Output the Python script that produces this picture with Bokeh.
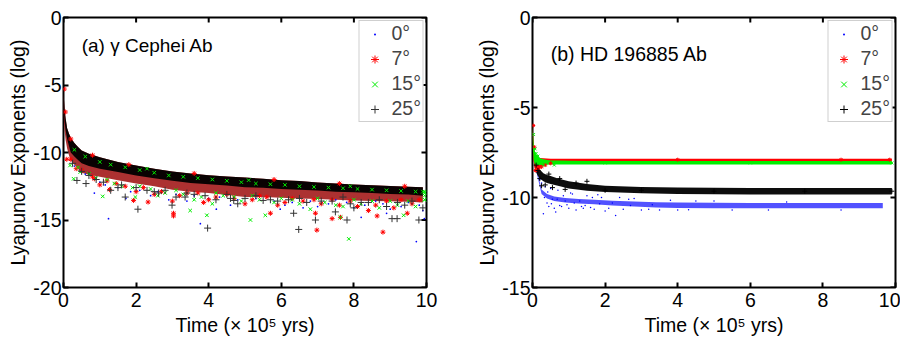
import math
from bokeh.plotting import figure
from bokeh.layouts import row
from bokeh.models import Label, FixedTicker, Range1d
from bokeh.embed import file_html
from bokeh.resources import INLINE

FONT = "Liberation Sans"
FS = "19.5px"
BLUE, RED, GREEN, BLACK = "#0000ff", "#ff0000", "#00ee00", "#000000"
LABELS = ["0\u00b0", "7\u00b0", "15\u00b0", "25\u00b0"]
X_LABEL = "Time (\u00d7 10\u2075 yrs)"
Y_LABEL = "Lyapunov Exponents (log)"

X_TICKS = [0, 2, 4, 6, 8, 10]
A_Y_TICKS = [0, -5, -10, -15, -20]
B_Y_TICKS = [0, -5, -10, -15]

# ---------------- panel (a): gamma Cephei Ab ----------------
A_T = [0.0, 0.03, 0.06, 0.1, 0.15, 0.2, 0.3, 0.4, 0.5, 0.7, 1.0, 1.5, 2.0, 2.5, 3.0,
       3.5, 4.0, 4.5, 5.0, 5.5, 6.0, 6.5, 7.0, 7.5, 8.0, 8.5, 9.0, 9.5, 9.9]
A_HI = [-5.5, -6.8, -7.5, -8.2, -8.6, -8.9, -9.3, -9.6, -9.85, -10.1, -10.35, -10.7, -10.96,
        -11.2, -11.4, -11.55, -11.68, -11.78, -11.85, -11.95, -12.05, -12.12, -12.22, -12.3,
        -12.37, -12.43, -12.48, -12.53, -12.57]
A_CORE_LO = [-6.5, -7.7, -8.4, -9.0, -9.5, -10.0, -10.3, -10.55, -10.8, -11.0, -11.2, -11.45,
             -11.7, -11.9, -12.1, -12.25, -12.35, -12.45, -12.57, -12.62, -12.7, -12.75, -12.82,
             -12.9, -12.95, -13.0, -13.07, -13.12, -13.2]
A_LO = [-7.2, -8.4, -9.1, -9.7, -10.2, -10.6, -10.9, -11.2, -11.5, -11.65, -11.8, -12.05,
        -12.3, -12.5, -12.75, -12.9, -13.0, -13.15, -13.3, -13.3, -13.35, -13.4, -13.45, -13.5,
        -13.55, -13.6, -13.62, -13.65, -13.7]

A_BLUE_T = [1.24, 3.77, 9.72, 8.2, 1.72, 0.85, 4.21, 5.97, 9.94, 8.9,
            0.3, 0.6, 1.0, 1.5, 2.1, 2.6, 3.1, 3.6, 4.3, 4.8, 5.3, 5.8, 6.3, 6.8,
            7.3, 7.8, 8.3, 8.8, 9.3, 9.8, 2.9, 4.6, 7.0, 9.0,
            0.45, 1.15, 1.85, 2.4, 3.4, 4.0, 5.0, 5.6, 6.1, 6.6, 7.5, 8.0, 8.6, 9.5, 9.9]
A_BLUE_V = [-14.9, -15.27, -16.6, -14.8, -13.4, -13.0, -14.2, -14.2, -14.9, -14.5,
            -11.0, -11.6, -12.2, -12.6, -12.8, -12.9, -13.1, -13.2, -13.3, -13.5, -13.4,
            -13.6, -13.7, -13.6, -13.8, -13.7, -13.9, -13.8, -14.0, -13.9, -13.5, -13.9,
            -14.0, -14.2,
            -11.3, -12.4, -12.9, -13.2, -13.6, -13.4, -13.8, -13.3, -13.9, -14.1, -13.5,
            -14.1, -13.6, -13.7, -14.3]
A_RED_T = [1.27, 1.93, 3.03, 3.03, 3.86, 6.98, 7.4, 8.8, 8.64, 6.94, 7.63, 2.33, 0.85, 0.09,
           9.47, 5.7,
           0.2, 0.5, 0.8, 1.2, 1.7, 2.2, 2.7, 3.2, 3.7, 4.2, 4.7, 5.2, 5.6, 6.1, 6.6, 7.1,
           7.6, 8.1, 8.6, 9.1, 9.6, 3.0, 5.9, 8.4,
           0.02, 0.05, 0.2, 0.8, 1.8, 3.6, 5.8, 7.6, 9.4,
           0.35, 1.0, 1.45, 2.0, 2.5, 3.4, 4.0, 4.5, 5.0, 5.4, 6.3, 6.9, 7.4, 7.9, 8.9, 9.3, 9.8]
A_RED_V = [-12.75, -13.55, -14.7, -14.5, -13.7, -15.75, -14.9, -15.9, -14.7, -14.5, -14.8,
           -13.67, -11.95, -10.5, -14.5, -14.5,
           -10.5, -11.3, -11.8, -12.1, -12.5, -12.6, -12.9, -13.2, -13.0, -13.3, -13.4, -13.5,
           -13.3, -13.7, -13.6, -13.8, -13.9, -14.0, -13.9, -14.1, -13.8, -13.6, -13.9, -14.3,
           -5.3, -7.0, -9.0, -10.2, -10.9, -11.55, -12.0, -12.3, -12.5,
           -11.2, -12.4, -12.3, -12.9, -13.1, -13.0, -13.5, -13.1, -13.8, -13.2, -13.4, -13.5,
           -13.5, -13.6, -13.6, -13.5, -13.5]
A_GREEN_T = [0.18, 0.28, 0.46, 1.08, 1.98, 3.95, 5.15, 5.56, 7.86, 7.63, 3.49, 9.9, 9.37,
             0.4, 0.9, 1.4, 1.9, 2.4, 2.8, 3.3, 3.8, 4.4, 4.9, 5.4, 6.0, 6.5, 7.2, 7.7, 8.2,
             8.7, 9.2, 9.7, 9.95, 9.95, 4.1, 6.8,
             0.3, 0.6, 1.0, 1.3, 1.7, 2.1, 2.5, 2.9, 3.3, 3.7, 4.1, 4.5, 4.9, 5.3, 5.7, 6.1,
             6.5, 6.9, 7.3, 7.7, 8.1, 8.5, 8.9, 9.3, 9.7, 9.95, 2.3, 5.1, 7.9, 9.95, 9.95,
             0.7, 1.2, 1.6, 2.1, 2.6, 3.1, 3.6, 4.2, 4.7, 5.2, 5.8, 6.3, 7.0, 7.5, 8.0, 8.5,
             9.0, 9.5]
A_GREEN_V = [-10.96, -11.95, -11.45, -13.25, -13.3, -14.65, -15.0, -14.65, -16.4, -14.8,
             -14.3, -12.9, -14.65,
             -11.1, -11.9, -12.3, -12.6, -12.7, -13.0, -13.1, -13.3, -13.2, -13.6, -13.5,
             -13.4, -13.8, -13.7, -14.0, -13.8, -14.1, -13.9, -14.0, -13.5, -13.0, -13.8, -14.2,
             -9.8, -10.3, -10.7, -10.9, -11.1, -11.3, -11.5, -11.7, -11.8, -11.9, -12.0, -12.1,
             -12.2, -12.3, -12.35, -12.4, -12.5, -12.55, -12.6, -12.65, -12.7, -12.75, -12.8,
             -12.85, -12.9, -12.9, -11.2, -12.05, -12.5, -13.2, -13.5,
             -11.6, -12.0, -12.5, -12.5, -13.2, -12.8, -13.5, -13.0, -13.3, -13.2, -13.7,
             -13.5, -13.4, -13.9, -13.5, -13.6, -13.6, -13.6]
A_BLACK_T = [0.37, 0.62, 2.05, 2.99, 3.97, 6.48, 6.34, 6.94, 7.81, 9.19, 9.79, 9.05, 1.7,
             2.62, 3.35, 4.69, 7.49, 5.5,
             0.25, 0.7, 1.1, 1.6, 2.3, 2.8, 3.4, 3.9, 4.5, 5.0, 5.7, 6.2, 6.7, 7.4, 7.9, 8.4,
             8.9, 9.4, 9.9, 1.3, 4.8, 8.0,
             0.5, 0.9, 1.5, 2.0, 2.5, 3.1, 3.6, 4.2, 4.6, 5.3, 5.9, 6.5, 7.1, 7.7, 8.2, 8.7,
             9.2, 9.6]
A_BLACK_V = [-12.07, -12.3, -14.2, -13.9, -15.6, -15.7, -14.5, -15.0, -15.0, -14.9, -15.0,
             -14.9, -13.3, -13.0, -13.3, -13.55, -14.4, -13.55,
             -10.8, -11.7, -12.2, -12.4, -12.8, -12.8, -13.0, -13.2, -13.1, -13.4, -13.5,
             -13.5, -13.7, -13.6, -13.8, -13.7, -14.0, -13.9, -14.1, -12.8, -13.8, -14.1,
             -11.4, -12.0, -12.6, -12.6, -12.9, -13.3, -13.1, -13.5, -13.4, -13.2, -13.6,
             -13.4, -13.6, -13.3, -13.7, -13.5, -13.7, -13.6]

# ---------------- panel (b): HD 196885 Ab ----------------
B_T = [0.0, 0.03, 0.06, 0.1, 0.15, 0.2, 0.3, 0.4, 0.5, 0.7, 1.0, 1.5, 2.0, 3.0, 4.0, 5.0,
       6.0, 7.0, 8.0, 9.0, 9.9]
B_RED_HI = [-5.8, -7.0, -7.5, -7.7, -7.75, -7.8, -7.82, -7.84, -7.85, -7.85, -7.85, -7.85,
            -7.85, -7.85, -7.85, -7.85, -7.85, -7.85, -7.85, -7.85, -7.85]
B_RED_LO = [-6.5, -8.0, -8.4, -8.45, -8.4, -8.35, -8.25, -8.15, -8.1, -8.05, -8.0, -7.98,
            -7.98, -7.98, -7.98, -7.98, -7.98, -7.98, -7.98, -7.98, -7.98]
B_GREEN_HI = [-6.0, -7.0, -7.4, -7.6, -7.7, -7.8, -7.88, -7.92, -7.94, -7.95, -7.96, -7.97,
              -7.97, -7.97, -7.97, -7.97, -7.97, -7.97, -7.97, -7.97, -7.97]
B_GREEN_LO = [-6.8, -7.9, -8.15, -8.2, -8.2, -8.2, -8.2, -8.18, -8.17, -8.17, -8.17, -8.17,
              -8.17, -8.17, -8.17, -8.17, -8.17, -8.17, -8.17, -8.17, -8.17]
B_BLACK_HI = [-6.3, -7.3, -7.8, -8.1, -8.3, -8.45, -8.65, -8.75, -8.8, -8.95, -9.1, -9.25,
              -9.35, -9.42, -9.45, -9.46, -9.47, -9.47, -9.47, -9.47, -9.47]
B_BLACK_LO = [-6.8, -7.9, -8.3, -8.6, -8.8, -8.95, -9.1, -9.2, -9.25, -9.35, -9.5, -9.62,
              -9.7, -9.77, -9.8, -9.82, -9.83, -9.83, -9.83, -9.83, -9.83]
B_BLUE_BT = [0.03, 0.06, 0.1, 0.15, 0.25, 0.4, 0.6, 0.9, 1.27, 1.7, 2.2, 2.8, 3.4, 4.0,
             5.0, 6.0, 7.0, 8.0, 9.0, 9.65]
B_BLUE_HI = [-7.0, -7.6, -8.2, -8.7, -9.55, -9.8, -9.95, -10.03, -10.08, -10.12, -10.18,
             -10.22, -10.26, -10.28, -10.29, -10.3, -10.3, -10.3, -10.3, -10.3]
B_BLUE_LO = [-7.2, -7.9, -8.5, -8.95, -9.8, -10.05, -10.2, -10.28, -10.33, -10.38, -10.45,
             -10.5, -10.55, -10.58, -10.6, -10.6, -10.6, -10.6, -10.6, -10.6]

B_BLUE_T = [0.25, 0.3, 0.35, 0.4, 0.45, 0.5, 0.6, 0.64, 0.7, 0.8, 0.9, 1.0, 1.1, 1.2, 1.4,
            1.5, 1.7, 1.9, 2.0, 2.29, 2.5, 2.8, 3.0, 3.5, 4.0, 4.5, 5.5, 7.0, 8.5,
            0.2, 0.55, 0.75, 1.05, 1.35, 1.6, 1.8, 2.1, 2.4, 2.65, 3.2, 3.8, 4.3, 5.0, 6.5,
            0.33, 0.42, 0.52, 0.68, 0.85, 0.95, 1.15, 1.3, 1.45, 1.65, 1.85, 2.2, 2.7, 3.3]
B_BLUE_V = [-9.2, -10.9, -9.4, -10.3, -10.5, -9.5, -10.6, -10.8, -9.6, -10.5, -10.2, -10.6,
            -9.8, -10.7, -10.6, -9.9, -10.65, -10.0, -10.75, -11.0, -10.65, -10.05, -10.7,
            -10.7, -10.7, -10.2, -10.7, -10.25, -10.7,
            -9.0, -10.1, -10.45, -9.75, -10.5, -10.55, -9.85, -10.6, -10.0, -10.1, -10.65,
            -10.15, -10.68, -10.2, -10.7,
            -10.0, -9.7, -10.35, -10.1, -9.9, -10.4, -10.3, -10.2, -10.45, -10.0, -10.35,
            -10.3, -10.45, -10.4]
B_RED_T = [0.02, 0.05, 0.08, 0.12, 0.18, 0.25, 0.35, 0.5, 4.0, 8.5, 9.84]
B_RED_V = [-6.0, -7.2, -8.5, -8.45, -8.35, -8.3, -8.2, -8.1, -7.9, -7.9, -7.9]
B_GREEN_T = [0.03, 0.07, 0.1, 0.15, 0.3, 0.6, 2.0, 6.0, 9.9]
B_GREEN_V = [-6.5, -7.3, -7.55, -7.7, -8.2, -8.2, -8.08, -8.08, -8.08]
B_BLACK_T = [0.1, 0.15, 0.2, 0.25, 0.35, 0.45, 0.55, 0.75, 0.9, 1.2, 1.5, 2.0, 3.0, 5.0, 7.5,
             9.9]
B_BLACK_V = [-8.2, -8.5, -8.95, -9.35, -9.3, -8.7, -9.45, -8.95, -9.55, -9.2, -9.1, -9.6,
             -9.6, -9.65, -9.65, -9.65]


def make_fig(width, border_left, border_right, y_min, y_ticks):
    p = figure(width=width, height=339, x_range=Range1d(0, 10), y_range=Range1d(y_min, 0),
               output_backend="svg", toolbar_location=None,
               min_border_left=border_left, min_border_right=border_right,
               min_border_top=17, min_border_bottom=52)
    p.grid.visible = False
    p.outline_line_color = "black"
    p.outline_line_width = 2
    p.background_fill_color = "white"
    p.border_fill_color = "white"
    p.xaxis.ticker = FixedTicker(ticks=X_TICKS)
    p.yaxis.ticker = FixedTicker(ticks=y_ticks)
    p.yaxis.major_label_overrides = {t: str(t) for t in y_ticks}
    p.xaxis.major_label_overrides = {t: str(t) for t in X_TICKS}
    for ax in p.axis:
        ax.axis_line_color = None
        ax.major_tick_in = 5
        ax.major_tick_out = 0
        ax.major_tick_line_width = 2
        ax.minor_tick_line_color = None
        ax.major_label_text_font = FONT
        ax.major_label_text_font_size = FS
        ax.major_label_text_color = "black"
        ax.axis_label_text_font = FONT
        ax.axis_label_text_font_size = FS
        ax.axis_label_text_font_style = "normal"
        ax.axis_label_text_color = "black"
    p.xaxis.major_label_standoff = 5
    p.yaxis.major_label_standoff = 2
    p.xaxis.axis_label_standoff = 4
    p.yaxis.axis_label_standoff = 1
    p.xaxis.axis_label = X_LABEL
    p.yaxis.axis_label = Y_LABEL
    # inward ticks on the top and right edges of the box
    p.ray(x=X_TICKS, y=[0] * len(X_TICKS), length=5, length_units="screen",
          angle=-math.pi / 2, line_color="black", line_width=2)
    p.ray(x=[10] * len(y_ticks), y=y_ticks, length=5, length_units="screen",
          angle=math.pi, line_color="black", line_width=2)
    return p


def style_legend(p):
    lg = p.legend[0]
    lg.location = "top_right"
    lg.margin = 3
    lg.padding = 1
    lg.spacing = 2
    lg.glyph_width = 28
    lg.glyph_height = 20
    lg.label_height = 20
    lg.label_standoff = 3
    lg.label_text_font = FONT
    lg.label_text_font_size = FS
    lg.border_line_color = "#a0a0a0"
    lg.border_line_width = 1
    lg.background_fill_alpha = 1


# ----- panel (a)
pa = make_fig(450, 63, 24, -20, A_Y_TICKS)
pa.varea(x=A_T, y1=A_HI, y2=A_LO, fill_color="#a01414", fill_alpha=0.88)
pa.varea(x=A_T, y1=A_HI, y2=A_CORE_LO, fill_color=BLACK, fill_alpha=0.95)
pa.scatter(A_BLUE_T, A_BLUE_V, marker="dot", size=7, color=BLUE, legend_label=LABELS[0])
pa.scatter(A_RED_T, A_RED_V, marker="asterisk", size=5, color=RED, line_width=1,
           legend_label=LABELS[1])
pa.scatter(A_GREEN_T, A_GREEN_V, marker="x", size=5, color=GREEN, line_width=1,
           legend_label=LABELS[2])
pa.scatter(A_BLACK_T, A_BLACK_V, marker="cross", size=7, color="#333333", line_width=1,
           legend_label=LABELS[3])
pa.add_layout(Label(x=0.5, y=-2.07, text="(a) \u03b3 Cephei Ab", text_font=FONT,
                    text_font_size="19px", text_baseline="middle", text_color="black"))
style_legend(pa)

# ----- panel (b)
pb = make_fig(450, 82, 5, -15, B_Y_TICKS)
pb.varea(x=B_BLUE_BT, y1=B_BLUE_HI, y2=B_BLUE_LO, fill_color=BLUE, fill_alpha=0.68)
pb.varea(x=B_T, y1=B_BLACK_HI, y2=B_BLACK_LO, fill_color=BLACK, fill_alpha=0.95)
pb.varea(x=B_T, y1=B_RED_HI, y2=B_RED_LO, fill_color=RED, fill_alpha=1.0)
pb.varea(x=B_T, y1=B_GREEN_HI, y2=B_GREEN_LO, fill_color=GREEN, fill_alpha=1.0)
pb.scatter(B_BLUE_T, B_BLUE_V, marker="dot", size=6, color=BLUE, legend_label=LABELS[0])
pb.scatter(B_RED_T, B_RED_V, marker="asterisk", size=4, color=RED, line_width=1,
           legend_label=LABELS[1])
pb.scatter(B_GREEN_T, B_GREEN_V, marker="x", size=4, color=GREEN, line_width=1,
           legend_label=LABELS[2])
pb.scatter(B_BLACK_T, B_BLACK_V, marker="cross", size=5, color=BLACK, line_width=1,
           legend_label=LABELS[3])
pb.add_layout(Label(x=0.5, y=-2.05, text="(b) HD 196885 Ab", text_font=FONT,
                    text_font_size=FS, text_baseline="middle", text_color="black"))
style_legend(pb)

layout = row(pa, pb)
open("out.html", "w").write(file_html(layout, INLINE))
